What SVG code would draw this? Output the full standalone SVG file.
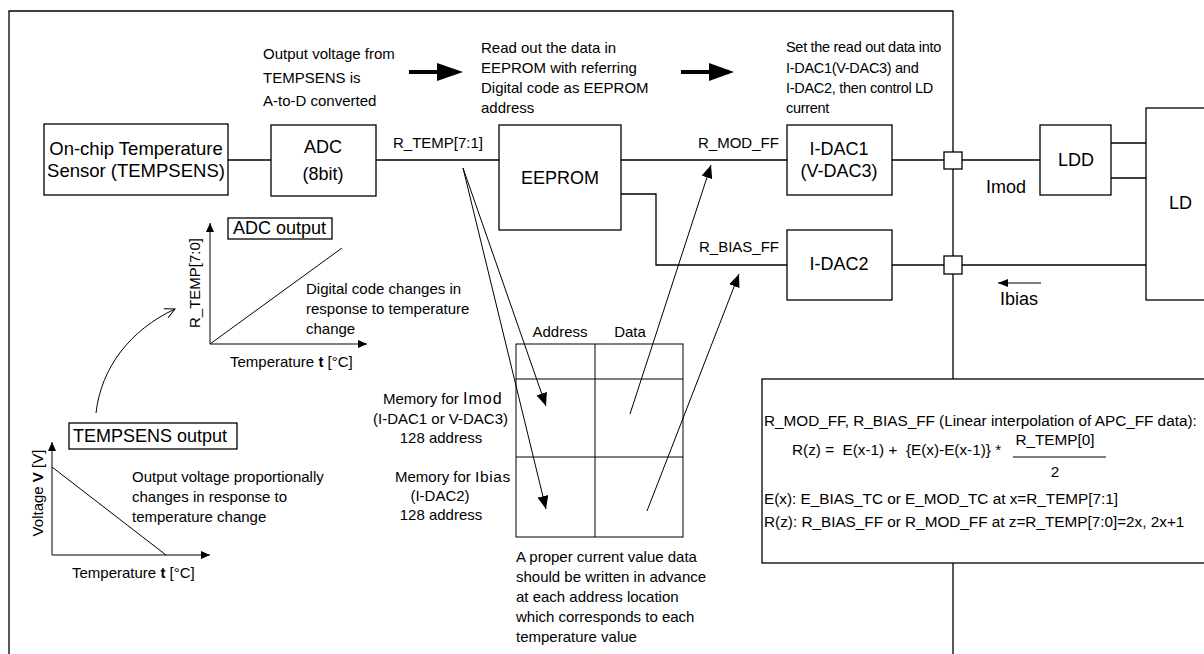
<svg xmlns="http://www.w3.org/2000/svg" width="1204" height="654" viewBox="0 0 1204 654">
<defs>
<style>
text{font-family:"Liberation Sans",Arial,Helvetica,sans-serif;fill:#000}
.s15{font-size:15px}
.s18{font-size:18px}
.sf{font-size:15.3px}
.sset{font-size:14.5px;letter-spacing:-0.3px}
.box{fill:#fff;stroke:#000;stroke-width:1.3}
.ln{fill:none;stroke:#000;stroke-width:1.3}
.thin{fill:none;stroke:#000;stroke-width:1}
.mid{text-anchor:middle}
</style>
<marker id="ah" markerUnits="userSpaceOnUse" markerWidth="13" markerHeight="11" refX="13" refY="5.5" orient="auto">
<path d="M0,0 L13,5.5 L0,11 z" fill="#000"/>
</marker>
<marker id="ax" markerUnits="userSpaceOnUse" markerWidth="9" markerHeight="8" refX="9" refY="4" orient="auto">
<path d="M0,0 L9,4 L0,8 z" fill="#000"/>
</marker>
<marker id="sm" markerUnits="userSpaceOnUse" markerWidth="10" markerHeight="8" refX="10" refY="4" orient="auto">
<path d="M0,0 L10,4 L0,8 z" fill="#000"/>
</marker>
<marker id="open" markerUnits="userSpaceOnUse" markerWidth="12" markerHeight="12" refX="11" refY="6" orient="auto">
<path d="M1,1 L11,6 L1,11" fill="none" stroke="#000" stroke-width="1"/>
</marker>
</defs>
<rect width="1204" height="654" fill="#fff"/>

<!-- outer frame (open at bottom) -->
<path class="ln" d="M9,660 V11 H953 V660"/>

<!-- connectors -->
<g id="connectors">
<line class="ln" x1="228" y1="160" x2="271" y2="160"/>
<line class="ln" x1="376" y1="160" x2="499" y2="160"/>
<line class="ln" x1="621" y1="160" x2="787" y2="160"/>
<line class="ln" x1="892" y1="160" x2="1040" y2="160"/>
<path class="ln" d="M621,194 H656 V265 H787"/>
<line class="ln" x1="892" y1="265" x2="1146" y2="265"/>
<line class="ln" x1="1111" y1="143" x2="1146" y2="143"/>
<line class="ln" x1="1111" y1="178" x2="1146" y2="178"/>
<!-- address arrows -->
<line class="thin" x1="463" y1="168" x2="546" y2="406" marker-end="url(#ah)"/>
<line class="thin" x1="463" y1="168" x2="546" y2="509" marker-end="url(#ah)"/>
<!-- data arrows -->
<line class="thin" x1="630" y1="414" x2="711" y2="165" marker-end="url(#ah)"/>
<line class="thin" x1="647" y1="511" x2="739" y2="274" marker-end="url(#ah)"/>
<!-- Ibias arrow -->
<line class="thin" x1="1041" y1="283" x2="998" y2="283" marker-end="url(#sm)"/>
<!-- curved arrow -->
<path class="thin" d="M96,413 C101,368 130,330 175,309" marker-end="url(#open)"/>
</g>

<!-- process arrows -->
<g id="process-arrows">
<rect x="409" y="70" width="30" height="4" fill="#000"/>
<polygon points="437,63 463,72 437,81" fill="#000"/>
<rect x="681" y="70" width="30" height="4" fill="#000"/>
<polygon points="709,63 734,72 709,81" fill="#000"/>
</g>

<!-- annotations -->
<g id="notes" class="s15">
<text x="263" y="59">Output voltage from</text>
<text x="263" y="83">TEMPSENS is</text>
<text x="263" y="106">A-to-D converted</text>
<text x="481" y="53">Read out the data in</text>
<text x="481" y="73">EEPROM with referring</text>
<text x="481" y="93">Digital code as EEPROM</text>
<text x="481" y="113">address</text>
<text class="sset" x="786" y="52">Set the read out data into</text>
<text class="sset" x="786" y="73">I-DAC1(V-DAC3) and</text>
<text class="sset" x="786" y="93">I-DAC2, then control LD</text>
<text class="sset" x="786" y="113">current</text>
<text x="393" y="148">R_TEMP[7:1]</text>
<text x="698" y="148">R_MOD_FF</text>
<text x="699" y="252">R_BIAS_FF</text>
</g>

<g id="tempsens">
<rect class="box" x="44" y="124" width="184" height="71"/>
<text class="mid" font-size="18.5" x="136" y="155">On-chip Temperature</text>
<text class="mid" font-size="18.5" x="136" y="177">Sensor (TEMPSENS)</text>
</g>
<g id="adc">
<rect class="box" x="271" y="125" width="105" height="71"/>
<text class="s18 mid" x="323" y="153">ADC</text>
<text class="s18 mid" x="323" y="180">(8bit)</text>
</g>
<g id="eeprom">
<rect class="box" x="499" y="125" width="122" height="105"/>
<text class="s18 mid" x="560" y="184">EEPROM</text>
</g>
<g id="idac1">
<rect class="box" x="787" y="125" width="105" height="70"/>
<text class="s18 mid" x="839" y="155">I-DAC1</text>
<text class="s18 mid" x="839" y="177">(V-DAC3)</text>
</g>
<g id="idac2">
<rect class="box" x="787" y="230" width="105" height="70"/>
<text class="s18 mid" x="839" y="270">I-DAC2</text>
</g>
<g id="pad1"><rect class="box" x="944" y="152" width="18" height="17"/></g>
<g id="pad2"><rect class="box" x="944" y="256" width="18" height="18"/></g>
<g id="ldd">
<rect class="box" x="1040" y="125" width="71" height="70"/>
<text class="s18 mid" x="1076" y="166">LDD</text>
</g>
<g id="ld">
<rect class="box" x="1146" y="108" width="70" height="192"/>
<text class="s18" x="1169" y="209">LD</text>
</g>
<text class="s18" x="986" y="193">Imod</text>
<text class="s18" x="1000" y="305">Ibias</text>

<!-- ADC output graph -->
<g id="adc-graph">
<line class="thin" x1="210" y1="344" x2="210" y2="223" marker-end="url(#ax)"/>
<line class="thin" x1="210" y1="344" x2="367" y2="344" marker-end="url(#ax)"/>
<line class="thin" x1="210" y1="344" x2="342" y2="248"/>
<rect class="box" x="228" y="218" width="104" height="21" stroke-width="1"/>
<text class="s18" x="233" y="234">ADC output</text>
<text class="s15 mid" transform="translate(200,283) rotate(-90)">R_TEMP[7:0]</text>
<text class="s15" x="306" y="294">Digital code changes in</text>
<text class="s15" x="306" y="314">response to temperature</text>
<text class="s15" x="306" y="334">change</text>
<text class="s15" x="230" y="367">Temperature <tspan font-weight="bold">t</tspan> [°C]</text>
</g>

<!-- TEMPSENS output graph -->
<g id="tempsens-graph">
<line class="thin" x1="52" y1="555" x2="52" y2="442" marker-end="url(#ax)"/>
<line class="thin" x1="52" y1="555" x2="210" y2="555" marker-end="url(#ax)"/>
<line class="thin" x1="52" y1="467" x2="166" y2="555"/>
<rect class="box" x="69" y="423" width="168" height="26" stroke-width="1"/>
<text class="s18" x="73" y="442">TEMPSENS output</text>
<text class="s15 mid" transform="translate(43,493) rotate(-90)">Voltage <tspan font-weight="bold">V</tspan> [V]</text>
<text class="s15" x="132" y="482">Output voltage proportionally</text>
<text class="s15" x="132" y="502">changes in response to</text>
<text class="s15" x="132" y="522">temperature change</text>
<text class="s15" x="72" y="578">Temperature <tspan font-weight="bold">t</tspan> [°C]</text>
</g>

<!-- memory table -->
<g id="memory">
<rect class="thin" x="516" y="344" width="167" height="193"/>
<line class="thin" x1="595" y1="344" x2="595" y2="537"/>
<line class="thin" x1="516" y1="379" x2="683" y2="379"/>
<line class="thin" x1="516" y1="457" x2="683" y2="457"/>
<text class="s15 mid" x="560" y="337">Address</text>
<text class="s15 mid" x="630" y="337">Data</text>
<text class="s15" x="383" y="404">Memory for <tspan font-size="16" letter-spacing="1">Imod</tspan></text>
<text class="s15" x="373" y="424">(I-DAC1 or V-DAC3)</text>
<text class="s15 mid" x="441" y="443">128 address</text>
<text class="s15" x="395" y="482">Memory for <tspan font-size="15.5" letter-spacing="0.6">Ibias</tspan></text>
<text class="s15 mid" x="440" y="501">(I-DAC2)</text>
<text class="s15 mid" x="441" y="520">128 address</text>
<text class="s15" x="516" y="562">A proper current value data</text>
<text class="s15" x="516" y="582">should be written in advance</text>
<text class="s15" x="516" y="602">at each address location</text>
<text class="s15" x="516" y="622">which corresponds to each</text>
<text class="s15" x="516" y="642">temperature value</text>
</g>

<!-- formula box -->
<g id="formula">
<rect class="box" x="762" y="379" width="450" height="184"/>
<text class="sf" x="764" y="426">R_MOD_FF, R_BIAS_FF (Linear interpolation of APC_FF data):</text>
<text class="sf" x="792" y="455" xml:space="preserve">R(z) =  E(x-1) +  {E(x)-E(x-1)} *</text>
<text class="sf mid" x="1055" y="445">R_TEMP[0]</text>
<line class="thin" x1="1013" y1="457" x2="1106" y2="457"/>
<text class="sf mid" x="1055" y="477">2</text>
<text class="sf" x="764" y="504">E(x): E_BIAS_TC or E_MOD_TC at x=R_TEMP[7:1]</text>
<text class="sf" x="764" y="527">R(z): R_BIAS_FF or R_MOD_FF at z=R_TEMP[7:0]=2x, 2x+1</text>
</g>
</svg>
